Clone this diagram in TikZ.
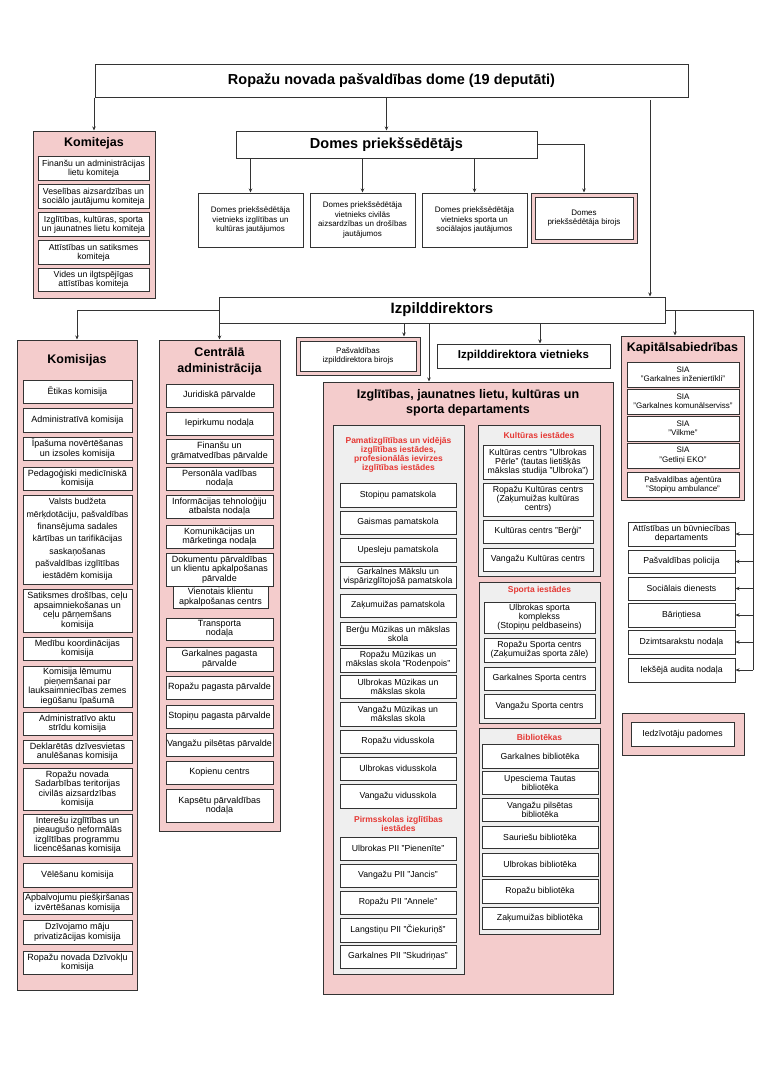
\documentclass[tikz,border=0pt]{standalone}
\usepackage{fontspec}
\setmainfont{Liberation Sans}
\usetikzlibrary{arrows.meta}
\definecolor{pinkbg}{HTML}{F4CCCC}
\definecolor{graybg}{HTML}{EFEFEF}
\definecolor{redhd}{HTML}{E53935}
\definecolor{edge}{HTML}{333333}
\tikzset{
  sz/.style 2 args={minimum width=#1pt, minimum height=#2pt},
  box/.style={draw=edge, line width=1pt, fill=white, inner sep=1pt, align=center,
    font=\fontsize{8.7}{9.2}\selectfont},
  listbox/.style={box, font=\fontsize{9}{9.5}\selectfont},
  smallbox/.style={box, font=\fontsize{8}{9.4}\selectfont},
  pinkbox/.style={draw=edge, line width=1pt, fill=pinkbg, inner sep=0pt},
  graybox/.style={draw=edge, line width=0.9pt, fill=graybg, inner sep=0pt},
  bighead/.style={font=\fontsize{14.5}{17}\selectfont\bfseries},
  head/.style={font=\fontsize{12.5}{15.5}\selectfont\bfseries, align=center, inner sep=0pt},
  redhead/.style={font=\fontsize{8.5}{9}\selectfont\bfseries, text=redhd, align=center, inner sep=0pt},
  arr/.style={draw=edge, line width=0.9pt, -{Stealth[length=4pt,width=3.5pt]}},
  wire/.style={draw=edge, line width=0.9pt},
}
\begin{document}
\begin{tikzpicture}[x=1pt,y=-1pt]
\useasboundingbox (0,0) rectangle (764,1080);
% Council
\node[box, bighead, sz={593}{33}] (dome) at (391.5,80.5) {Ropažu novada pašvaldības dome (19 deputāti)};
% Committees
\node[pinkbox, sz={122}{167}] (komitejas) at (94,214.5) {};
\node[head] (komitejas-t) at (94,143) {Komitejas};
\foreach \y/\txt [count=\i] in {168.5/{Finanšu un administrācijas\\lietu komiteja},
    196.5/{Veselības aizsardzības un\\sociālo jautājumu komiteja},
    224.5/{Izglītības, kultūras, sporta\\un jaunatnes lietu komiteja},
    252.5/{Attīstības un satiksmes\\komiteja},
    280/{Vides un ilgtspējīgas\\attīstības komiteja}}
  \node[box, sz={111}{23.5}] (kmt\i) at (93.5,\y) {\txt};
% Chairman and deputies
\node[box, bighead, sz={301}{27}] (domes) at (386.5,144.5) {Domes priekšsēdētājs};
\foreach \x/\txt [count=\i] in {250.5/{Domes priekšsēdētāja\\vietnieks izglītības un\\kultūras jautājumos},
    362.5/{Domes priekšsēdētāja\\vietnieks civilās\\aizsardzības un drošības\\jautājumos},
    474.5/{Domes priekšsēdētāja\\vietnieks sporta un\\sociālajos jautājumos}}
  \node[smallbox, sz={105}{54}] (dep\i) at (\x,220) {\txt};
\node[pinkbox, sz={106}{50}] (birojs) at (584,218) {};
\node[smallbox, sz={98}{42}] (birojs-in) at (584,218) {Domes\\priekšsēdētāja birojs};
% Executive director
\node[box, font=\fontsize{15}{18}\selectfont\bfseries, sz={446}{26}] (izpild) at (442,310) {Izpilddirektors};
% Commissions
\node[pinkbox, sz={120}{650}] (komisijas) at (77,665) {};
\node[head] (komisijas-t) at (77,360) {Komisijas};
\foreach \t/\b/\txt [count=\i] in {380/403/{Ētikas komisija},
    408/432/{Administratīvā komisija},
    437/460/{Īpašuma novērtēšanas\\un izsoles komisija},
    467/490/{Pedagoģiski medicīniskā\\komisija},
    589/632/{Satiksmes drošības, ceļu\\apsaimniekošanas un\\ceļu pārņemšans\\komisija},
    637/660/{Medību koordinācijas\\komisija},
    666/707/{Komisija lēmumu\\pieņemšanai par\\lauksaimniecības zemes\\iegūšanu īpašumā},
    712/735/{Administratīvo aktu\\strīdu komisija},
    740/763/{Deklarētās dzīvesvietas\\anulēšanas komisija},
    768/810/{Ropažu novada\\Sadarbības teritorijas\\civilās aizsardzības\\komisija},
    814/856/{Interešu izglītības un\\pieaugušo neformālās\\izglītības programmu\\licencēšanas komisija},
    863/887/{Vēlēšanu komisija},
    892/914/{Apbalvojumu piešķiršanas\\izvērtēšanas komisija},
    920/944/{Dzīvojamo māju\\privatizācijas komisija},
    951/974/{Ropažu novada Dzīvokļu\\komisija}}
  \node[listbox, minimum width=109pt, minimum height={(\b-\t)*1pt}] (kms\i) at (77.5,{(\t+\b)/2}) {\txt};
\node[box, font=\fontsize{8.8}{12.3}\selectfont, sz={109}{89}] (kms-budzets) at (77.5,539.5)
  {Valsts budžeta\\mērķdotāciju, pašvaldības\\finansējuma sadales\\kārtības un tarifikācijas\\saskaņošanas\\pašvaldības izglītības\\iestādēm komisija};
% Central administration
\node[pinkbox, sz={121}{491}] (centr) at (219.5,585.5) {};
\node[head, font=\fontsize{12.5}{16}\selectfont\bfseries] (centr-t) at (219.5,361) {Centrālā\\administrācija};
\foreach \t/\b/\txt [count=\i] in {384/407/{Juridiskā pārvalde},
    412/435/{Iepirkumu nodaļa},
    439/463/{Finanšu un\\grāmatvedības pārvalde},
    467/490/{Personāla vadības\\nodaļa},
    495/518/{Informācijas tehnoloģiju\\atbalsta nodaļa},
    525/548/{Komunikācijas un\\mārketinga nodaļa},
    553/586/{Dokumentu pārvaldības\\un klientu apkalpošanas\\pārvalde},
    618/640/{Transporta\\nodaļa},
    647/671/{Garkalnes pagasta\\pārvalde},
    676/699/{Ropažu pagasta pārvalde},
    705/728/{Stopiņu pagasta pārvalde},
    733/756/{Vangažu pilsētas pārvalde},
    761/784/{Kopienu centrs},
    789/822/{Kapsētu pārvaldības\\nodaļa}}
  \node[listbox, minimum width=107pt, minimum height={(\b-\t)*1pt}] (ca\i) at (219.5,{(\t+\b)/2}) {\txt};
\node[listbox, sz={95}{22}] (ca-vkac) at (220.5,597) {Vienotais klientu\\apkalpošanas centrs};
% Director's office and deputy
\node[pinkbox, sz={124}{38}] (izpbirojs) at (358,356) {};
\node[smallbox, sz={116}{30}] (izpbirojs-in) at (358,356) {Pašvaldības\\izpilddirektora birojs};
\node[box, font=\fontsize{11.5}{14}\selectfont\bfseries, sz={173}{24}] (vietnieks) at (523.5,356) {Izpilddirektora vietnieks};
% Department
\node[pinkbox, sz={290}{612}] (dept) at (468,688) {};
\node[head, font=\fontsize{12.5}{15}\selectfont\bfseries] (dept-t) at (468,403) {Izglītības, jaunatnes lietu, kultūras un\\sporta departaments};
\node[graybox, sz={131}{549}] (skolas) at (398.5,699.5) {};
\node[redhead] (skolas-t) at (398.5,455) {Pamatizglītības un vidējās\\izglītības iestādes,\\profesionālās ievirzes\\izglītības iestādes};
\foreach \t/\b/\txt [count=\i] in {483/507/{Stopiņu pamatskola},
    511/534/{Gaismas pamatskola},
    538/562/{Upesleju pamatskola},
    566/588/{Garkalnes Mākslu un\\vispārizglītojošā pamatskola},
    594/617/{Zaķumuižas pamatskola},
    622/645/{Berģu Mūzikas un mākslas\\skola},
    648/672/{Ropažu Mūzikas un\\mākslas skola "Rodenpois"},
    675/698/{Ulbrokas Mūzikas un\\mākslas skola},
    702/726/{Vangažu Mūzikas un\\mākslas skola},
    730/753/{Ropažu vidusskola},
    757/780/{Ulbrokas vidusskola},
    784/808/{Vangažu vidusskola},
    837/860/{Ulbrokas PII "Pienenīte"},
    864/887/{Vangažu PII "Jancis"},
    891/914/{Ropažu PII "Annele"},
    918/942/{Langstiņu PII "Čiekuriņš"},
    945/968/{Garkalnes PII "Skudriņas"}}
  \node[box, minimum width=116pt, minimum height={(\b-\t)*1pt}] (sk\i) at (398,{(\t+\b)/2}) {\txt};
\node[redhead] (pii-t) at (398.5,824) {Pirmsskolas izglītības\\iestādes};
\node[graybox, sz={122}{151}] (kult) at (539,500.5) {};
\node[redhead] (kult-t) at (539,435) {Kultūras iestādes};
\foreach \t/\b/\txt [count=\i] in {445/479/{Kultūras centrs "Ulbrokas\\Pērle" (tautas lietišķās\\mākslas studija "Ulbroka")},
    483/516/{Ropažu Kultūras centrs\\(Zaķumuižas kultūras\\centrs)},
    520/543/{Kultūras centrs "Berģi"},
    548/571/{Vangažu Kultūras centrs}}
  \node[box, minimum width=110pt, minimum height={(\b-\t)*1pt}] (ku\i) at (538,{(\t+\b)/2}) {\txt};
\node[graybox, sz={121}{141}] (sports) at (539.5,652.5) {};
\node[redhead] (sports-t) at (539.5,590) {Sporta iestādes};
\foreach \t/\b/\txt [count=\i] in {602/633/{Ulbrokas sporta\\komplekss\\(Stopiņu peldbaseins)},
    638/662/{Ropažu Sporta centrs\\(Zaķumuižas sporta zāle)},
    667/690/{Garkalnes Sporta centrs},
    694/718/{Vangažu Sporta centrs}}
  \node[box, minimum width=111pt, minimum height={(\b-\t)*1pt}] (sp\i) at (539.5,{(\t+\b)/2}) {\txt};
\node[graybox, sz={121}{206}] (bibl) at (539.5,831) {};
\node[redhead] (bibl-t) at (539.5,737) {Bibliotēkas};
\foreach \t/\b/\txt [count=\i] in {744/768/{Garkalnes bibliotēka},
    771/794/{Upesciema Tautas\\bibliotēka},
    798/821/{Vangažu pilsētas\\bibliotēka},
    826/848/{Sauriešu bibliotēka},
    853/876/{Ulbrokas bibliotēka},
    879/903/{Ropažu bibliotēka},
    907/929/{Zaķumuižas bibliotēka}}
  \node[box, minimum width=116pt, minimum height={(\b-\t)*1pt}] (bi\i) at (540,{(\t+\b)/2}) {\txt};
% Companies
\node[pinkbox, sz={123}{164}] (kapital) at (682.5,418) {};
\node[head] (kapital-t) at (682.5,348) {Kapitālsabiedrības};
\foreach \t/\b/\txt [count=\i] in {362/387/{SIA\\"Garkalnes inženiertīkli"},
    389/414/{SIA\\"Garkalnes komunālserviss"},
    416/441/{SIA\\"Vilkme"},
    443/468/{SIA\\"Getliņi EKO"},
    472/497/{Pašvaldības aģentūra\\"Stopiņu ambulance"}}
  \node[smallbox, minimum width=112pt, minimum height={(\b-\t)*1pt}] (sia\i) at (683,{(\t+\b)/2}) {\txt};
% Right column
\foreach \t/\b/\txt [count=\i] in {522/546/{Attīstības un būvniecības\\departaments},
    550/573/{Pašvaldības policija},
    577/600/{Sociālais dienests},
    603/627/{Bāriņtiesa},
    630/654/{Dzimtsarakstu nodaļa},
    658/682/{Iekšējā audita nodaļa}}
  \node[box, minimum width=107pt, minimum height={(\b-\t)*1pt}] (rb\i) at (681.5,{(\t+\b)/2}) {\txt};
\node[pinkbox, sz={122}{42}] (padomes) at (683,734) {};
\node[box, sz={103}{24}] (padomes-in) at (682.5,734) {Iedzīvotāju padomes};
% Connectors from the council
\draw[arr] (komitejas.north |- dome.south) -- (komitejas.north);
\draw[arr] (domes.north |- dome.south) -- (domes.north);
\coordinate (dome-r) at (650,100);
\draw[arr] (dome-r) -- (dome-r |- izpild.north);
\foreach \n in {dep1,dep2,dep3}
  \draw[arr] (\n.north |- domes.south) -- (\n.north);
\draw[arr] (domes.east) -| (birojs.north);
% Connectors from the director
\draw[arr] (izpild.west) -| (komisijas.north);
\draw[arr] (centr.north |- izpild.west) -- (centr.north);
\coordinate (ib) at (404,0);
\draw[arr] (ib |- izpild.south) -- (ib |- izpbirojs.north);
\coordinate (dp) at (429,0);
\draw[arr] (dp |- izpild.south) -- (dp |- dept.north);
\coordinate (vn) at (540,0);
\draw[arr] (vn |- izpild.south) -- (vn |- vietnieks.north);
\coordinate (rail) at (753,0);
\draw[wire] (izpild.east) -- (rail |- izpild.east) -- (rail |- rb6.east);
\coordinate (kp) at (675,0);
\draw[arr] (kp |- izpild.east) -- (kp |- kapital.north);
\foreach \i in {1,...,6}
  \draw[arr] (rail |- rb\i.east) -- (rb\i.east);
\end{tikzpicture}
\end{document}
